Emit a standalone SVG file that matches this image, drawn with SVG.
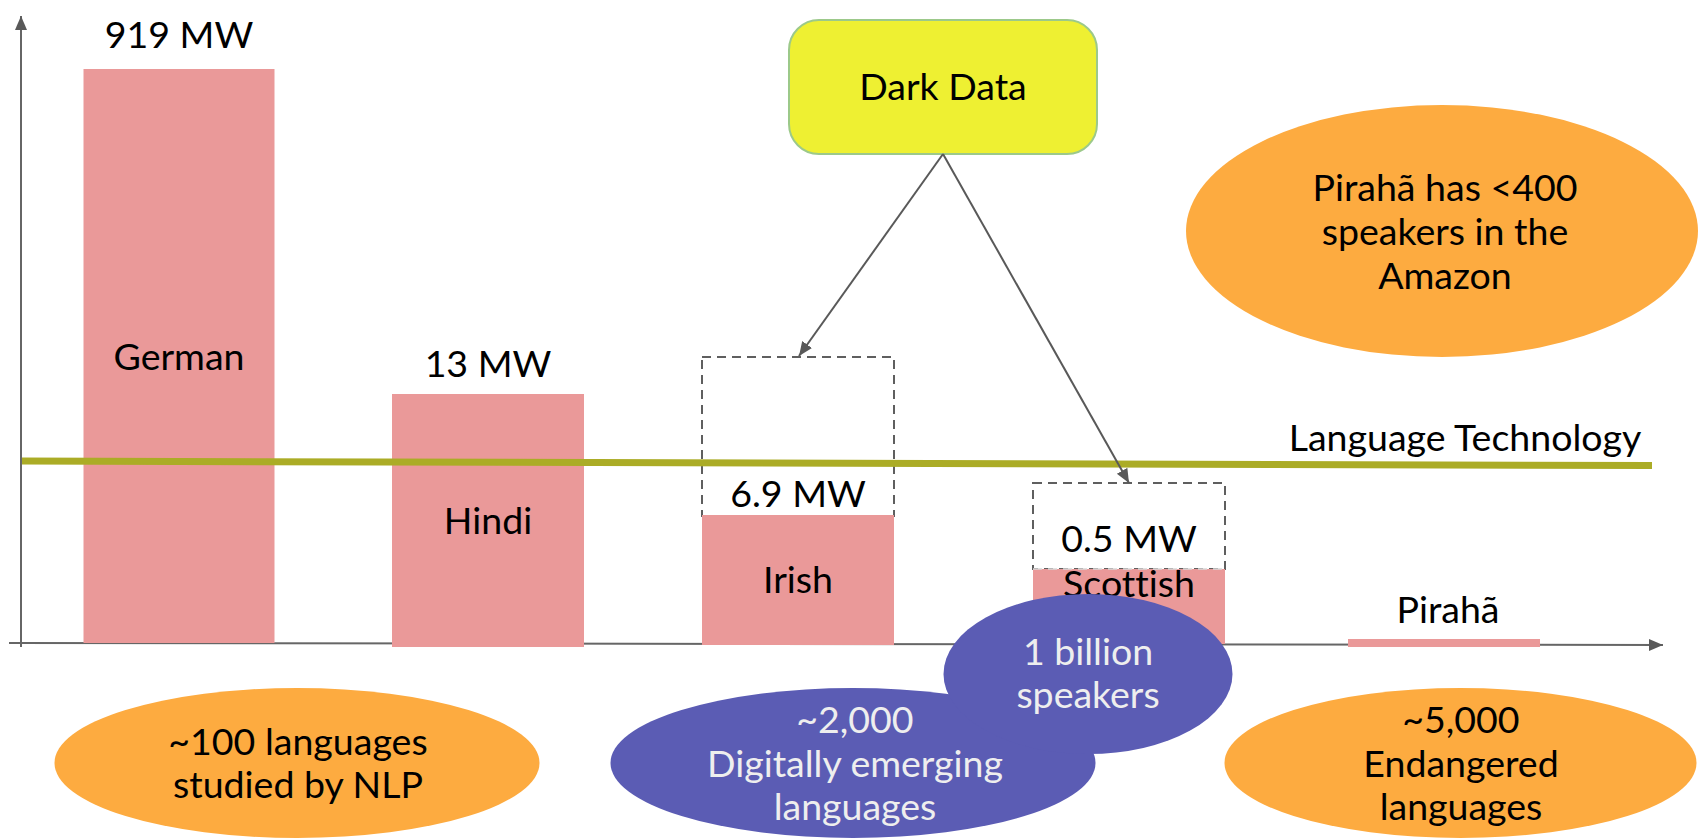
<svg xmlns="http://www.w3.org/2000/svg" width="1698" height="838" viewBox="0 0 1698 838">
<style>
text{font-family:Lato,"Noto Sans","Liberation Sans",sans-serif;font-size:37.5px;fill:#000;text-anchor:middle;font-variant-ligatures:none}
.bar{fill:#ea9999}
.orange{fill:#fdab40}
.purple{fill:#5b5cb4}
.lt{fill:#eeeeee}
.dash{fill:none;stroke:#5f5f5f;stroke-width:2;stroke-dasharray:9 6}
.axis{stroke:#666666;stroke-width:2;fill:none}
.conn{stroke:#595959;stroke-width:2;fill:none}
</style>
<defs>
<marker id="ah" markerUnits="userSpaceOnUse" markerWidth="16" markerHeight="14" refX="14" refY="7" orient="auto">
<path d="M0,1 L14,7 L0,13 Z" fill="#595959"/>
</marker>
</defs>
<g id="axes">
<line class="axis" x1="21" y1="647" x2="21" y2="16" marker-end="url(#ah)"/>
<line class="axis" x1="9" y1="643" x2="1663" y2="645" marker-end="url(#ah)"/>
</g>
<g id="german">
<rect class="bar" x="83.5" y="69" width="191" height="574"/>
<text x="179" y="48">919 MW</text>
<text x="179" y="370">German</text>
</g>
<g id="hindi">
<rect class="bar" x="392" y="394" width="192" height="253"/>
<text x="488" y="377">13 MW</text>
<text x="488" y="534">Hindi</text>
</g>
<g id="irish">
<rect class="dash" x="702" y="357" width="192" height="159"/>
<rect class="bar" x="702" y="515" width="192" height="130"/>
<text x="798" y="507">6.9 MW</text>
<text x="798" y="593">Irish</text>
</g>
<g id="scottish">
<rect class="dash" x="1033" y="483" width="192" height="86"/>
<rect class="bar" x="1033" y="569" width="192" height="75"/>
<line x1="1033" y1="569" x2="1225" y2="569" stroke="#d9d9d9" stroke-width="1.5" stroke-dasharray="9 6"/>
<text x="1129" y="552">0.5 MW</text>
<text x="1129" y="597">Scottish</text>
</g>
<g id="piraha">
<rect class="bar" x="1348" y="639" width="192" height="8"/>
<text x="1448" y="623">Pirahã</text>
</g>
<g id="language-technology">
<line x1="22" y1="461" x2="1652" y2="465.5" stroke="#abac26" stroke-width="7"/>
<text x="1465" y="451">Language Technology</text>
</g>
<g id="dark-data">
<rect x="789" y="20" width="308" height="134" rx="30" ry="30" fill="#eef032" stroke="#9cc98a" stroke-width="2"/>
<text x="943" y="100">Dark Data</text>
</g>
<g id="connectors">
<line class="conn" x1="943" y1="154" x2="799" y2="356" marker-end="url(#ah)"/>
<line class="conn" x1="943" y1="154" x2="1129" y2="483" marker-end="url(#ah)"/>
</g>
<g id="piraha-note">
<ellipse class="orange" cx="1442" cy="231" rx="256" ry="126"/>
<text x="1445" y="201">Pirahã has &lt;400</text>
<text x="1445" y="245">speakers in the</text>
<text x="1445" y="289">Amazon</text>
</g>
<g id="nlp-languages">
<ellipse class="orange" cx="297" cy="763" rx="242.5" ry="75"/>
<text x="298" y="755">~100 languages</text>
<text x="298" y="798">studied by NLP</text>
</g>
<g id="emerging-languages">
<ellipse class="purple" cx="853" cy="763" rx="242.5" ry="75"/>
<text class="lt" x="855" y="733">~2,000</text>
<text class="lt" x="855" y="777">Digitally emerging</text>
<text class="lt" x="855" y="820">languages</text>
</g>
<g id="billion-speakers">
<ellipse class="purple" cx="1088" cy="674" rx="144.5" ry="80"/>
<text class="lt" x="1088" y="665">1 billion</text>
<text class="lt" x="1088" y="708">speakers</text>
</g>
<g id="endangered-languages">
<ellipse class="orange" cx="1460.5" cy="763" rx="236" ry="75"/>
<text x="1461" y="733">~5,000</text>
<text x="1461" y="777">Endangered</text>
<text x="1461" y="820">languages</text>
</g>
</svg>
